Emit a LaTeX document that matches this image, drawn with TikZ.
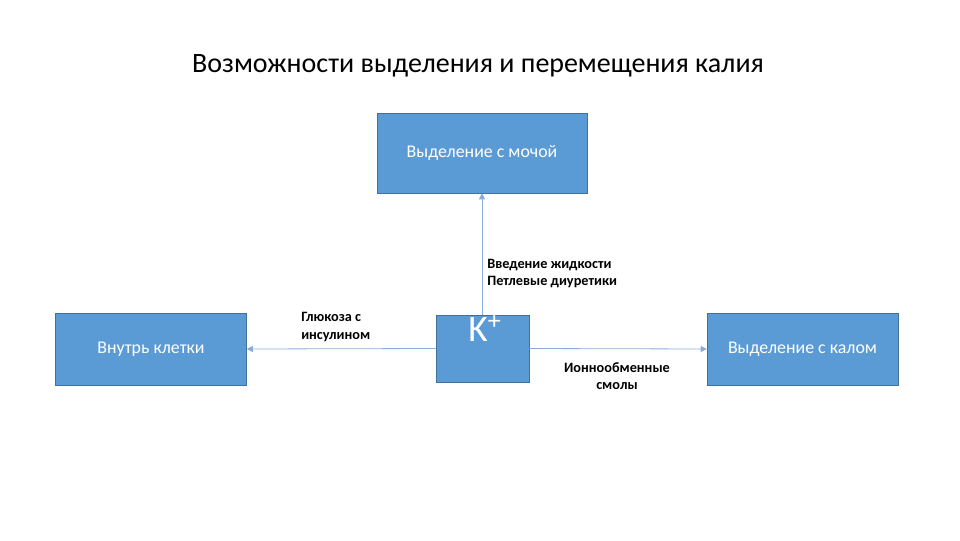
\documentclass[tikz,border=0pt]{standalone}
\usepackage{fontspec}
\setmainfont{Carlito}
\usetikzlibrary{arrows.meta, positioning}
\definecolor{boxblue}{HTML}{5B9BD5}
\definecolor{boxedge}{HTML}{41719C}
\definecolor{linkblue}{HTML}{8EAADB}

\begin{document}
\begin{tikzpicture}[
    x = 0.75pt, y = -0.75pt,
    box/.style   = {draw=boxedge, fill=boxblue, text=white,
                    font=\fontsize{13.4}{16}\selectfont, inner sep=0pt},
    sidebox/.style = {box, minimum width=143.25pt, minimum height=54pt},
    note/.style  = {font=\fontsize{10.7}{13.2}\selectfont\bfseries,
                    align=left, inner sep=0pt},
    arr/.style   = {-{Triangle[width=4.5pt, length=4.5pt]},
                    linkblue, line width=0.6pt},
  ]
  \useasboundingbox (0,0) rectangle (960,540);
  % title
  \node[font=\fontsize{21}{25}\selectfont] (title) at (478,66)
    {Возможности выделения и перемещения калия};
  % boxes
  \node[box, minimum width=69.75pt, minimum height=50.25pt] (k) at (482.5,348.5) {};
  \node[text=white, font=\fontsize{28}{30}\selectfont, anchor=north,
        inner sep=0pt] (ktxt) at (485,315) {K\textsuperscript{+}};
  \node[box, minimum width=157.5pt, minimum height=60pt] (urine) at (482,153)
    {Выделение с мочой};
  \node[sidebox] (cell) at (151,349) {Внутрь клетки};
  \node[sidebox] (stool) at (802.5,349) {Выделение с калом};
  % connectors
  \draw[arr] (k.north -| urine.south) -- (urine.south);
  \draw[arr] (k.west) -- (cell.east);
  \draw[arr] (k.east) -- (stool.west);
  % labels
  \node[note, anchor=north west] (fluid) at (487,258.5)
    {Введение жидкости\\Петлевые диуретики};
  \node[note, anchor=north west] (gluc) at (301,312)
    {Глюкоза с\\инсулином};
  \node[note, align=center, anchor=north] (resin) at (617,362)
    {Ионнообменные\\смолы};
\end{tikzpicture}
\end{document}
